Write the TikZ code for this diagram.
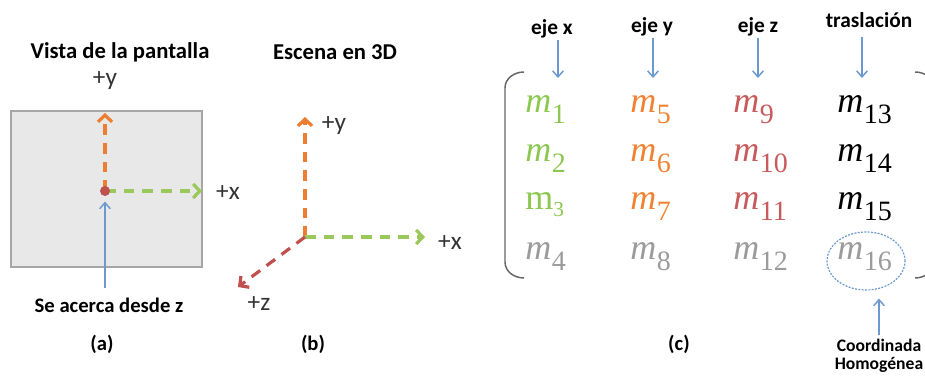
\documentclass[tikz,border=0pt]{standalone}
\usepackage{fontspec}
\setmainfont{Carlito}
\newfontfamily\mfont{Liberation Serif}
\usetikzlibrary{arrows.meta,shapes.geometric}

\definecolor{axorange}{HTML}{ED7D31}
\definecolor{axgreen}{HTML}{9BC85A}
\definecolor{axred}{HTML}{C0504D}
\definecolor{axblue}{HTML}{6A9AD0}
\definecolor{mgreen}{HTML}{8CC850}
\definecolor{morange}{HTML}{F08232}
\definecolor{mred}{HTML}{C85A5C}
\definecolor{mgray}{HTML}{9B9B9B}
\definecolor{lblgray}{HTML}{333333}

% matrix element: italic m with lowered index
\newcommand{\mel}[1]{\textit{m}\hspace{0.5pt}\raisebox{-8pt}{\fontsize{21}{21}\selectfont #1}}
\newcommand{\melup}[1]{m\raisebox{-5pt}{\fontsize{16}{16}\selectfont #1}}

\begin{document}
\begin{tikzpicture}[
    x=0.75pt, y=-0.75pt,
    title/.style={anchor=base, inner sep=0, font=\bfseries\fontsize{17}{20}\selectfont},
    axlbl/.style={anchor=base, inner sep=0, text=lblgray, font=\fontsize{19}{22}\selectfont},
    tag/.style={anchor=base, inner sep=0, font=\bfseries\fontsize{15.5}{18}\selectfont},
    head/.style={anchor=base, inner sep=0, font=\bfseries\fontsize{16}{19}\selectfont},
    note/.style={anchor=base, inner sep=0, font=\bfseries\fontsize{13.2}{16}\selectfont},
    screen/.style={rectangle, draw=black!35, fill=black!9, line width=1.1pt, inner sep=0},
    dot/.style={circle, fill=axred, inner sep=0, minimum size=7.5pt},
    axis/.style={line width=2.4pt, dash pattern=on 8pt off 6pt, -{Straight Barb[length=5pt,width=10.5pt]}},
    bluearr/.style={axblue, line width=1.1pt, -{Straight Barb[length=4.5pt,width=8pt]}},
    mat/.style={anchor=base west, inner sep=0, font=\mfont\fontsize{27}{27}\selectfont},
    ring/.style={ellipse, draw=axblue, line width=0.9pt, dash pattern=on 1.5pt off 1pt, minimum width=58.5pt, minimum height=43.5pt},
    bracket/.style={draw=black!60, line width=1.1pt}
]
\useasboundingbox (0,0) rectangle (925,377);

% (a) screen view
\node[title] (titlea) at (120,59) {Vista de la pantalla};
\node[axlbl] (ylbla) at (105,86) {+y};
\node[screen, minimum width=143.25pt, minimum height=117pt] (screen) at (106.5,189) {};
\coordinate (oa) at (105,191);
\coordinate (ya) at (105,113);
\coordinate (xa) at (202,191);
\draw[axis, axorange] (oa) -- (ya);
\draw[axis, axgreen] (oa) -- (xa);
\node[dot] (dot) at (oa) {};
\node[axlbl] (xlbla) at (228,200) {+x};
\node[title, font=\bfseries\fontsize{15.5}{18}\selectfont] (acerca) at (109,313) {Se acerca desde z};
\draw[bluearr, shorten <=7.5pt, shorten >=4pt] (acerca.north -| oa) -- (dot.south);
\node[tag] (taga) at (102,351) {(a)};

% (b) 3D scene
\node[title] (titleb) at (335,60) {Escena en 3D};
\coordinate (ob) at (305,237);
\coordinate (yb) at (305,117);
\coordinate (xb) at (425,237);
\coordinate (zb) at (238,287);
\draw[axis, axorange] (ob) -- (yb);
\draw[axis, axgreen] (ob) -- (xb);
\draw[axis, axred] (ob) -- (zb);
\node[axlbl] (ylblb) at (334,131) {+y};
\node[axlbl] (xlblb) at (450,250) {+x};
\node[axlbl] (zlblb) at (259,311) {+z};
\node[tag] (tagb) at (313,351) {(b)};

% (c) matrix
\node[head] (ejex) at (552,35) {eje x};
\node[head] (ejey) at (652,33) {eje y};
\node[head] (ejez) at (758,33) {eje z};
\node[head] (tras) at (869,28) {traslación};
\coordinate (cx) at (558,78);
\coordinate (cy) at (653,78);
\coordinate (cz) at (758,78);
\coordinate (ct) at (862,78);
\draw[bluearr, shorten <=1pt] (ejex.south -| cx) -- (cx);
\draw[bluearr, shorten <=1pt] (ejey.south -| cy) -- (cy);
\draw[bluearr, shorten <=1pt] (ejez.south -| cz) -- (cz);
\draw[bluearr, shorten <=6.5pt] (tras.south -| ct) -- (ct);

\draw[bracket] (524,72) to[out=180,in=90] (505,88) -- (505,262) to[out=-90,in=180] (524,278);
\draw[bracket] (915,72) to[out=0,in=90] (934,88) -- (934,262) to[out=-90,in=0] (915,278);

\node[mat, text=mgreen] (m1) at (525,113) {\mel{1}};
\node[mat, text=mgreen] (m2) at (525,162) {\mel{2}};
\node[mat, text=mgreen] (m3) at (525,210) {\melup{3}};
\node[mat, text=mgray] (m4) at (525,260) {\mel{4}};
\node[mat, text=morange] (m5) at (630,113) {\mel{5}};
\node[mat, text=morange] (m6) at (630,162) {\mel{6}};
\node[mat, text=morange] (m7) at (630,210) {\mel{7}};
\node[mat, text=mgray] (m8) at (630,260) {\mel{8}};
\node[mat, text=mred] (m9) at (733,113) {\mel{9}};
\node[mat, text=mred] (m10) at (733,162) {\mel{10}};
\node[mat, text=mred] (m11) at (733,210) {\mel{11}};
\node[mat, text=mgray] (m12) at (733,260) {\mel{12}};
\node[mat, text=black] (m13) at (837,113) {\mel{13}};
\node[mat, text=black] (m14) at (837,162) {\mel{14}};
\node[mat, text=black] (m15) at (837,210) {\mel{15}};
\node[mat, text=mgray] (m16) at (837,260) {\mel{16}};

\node[ring] (ring) at (866,261) {};
\node[note] (coord) at (879,352) {Coordinada};
\node[note] (hom) at (879,370) {Homogénea};
\draw[bluearr, shorten <=3pt, shorten >=6pt] (coord.north) -- (coord.north |- ring.south);
\node[tag] (tagc) at (679,351) {(c)};
\end{tikzpicture}
\end{document}
